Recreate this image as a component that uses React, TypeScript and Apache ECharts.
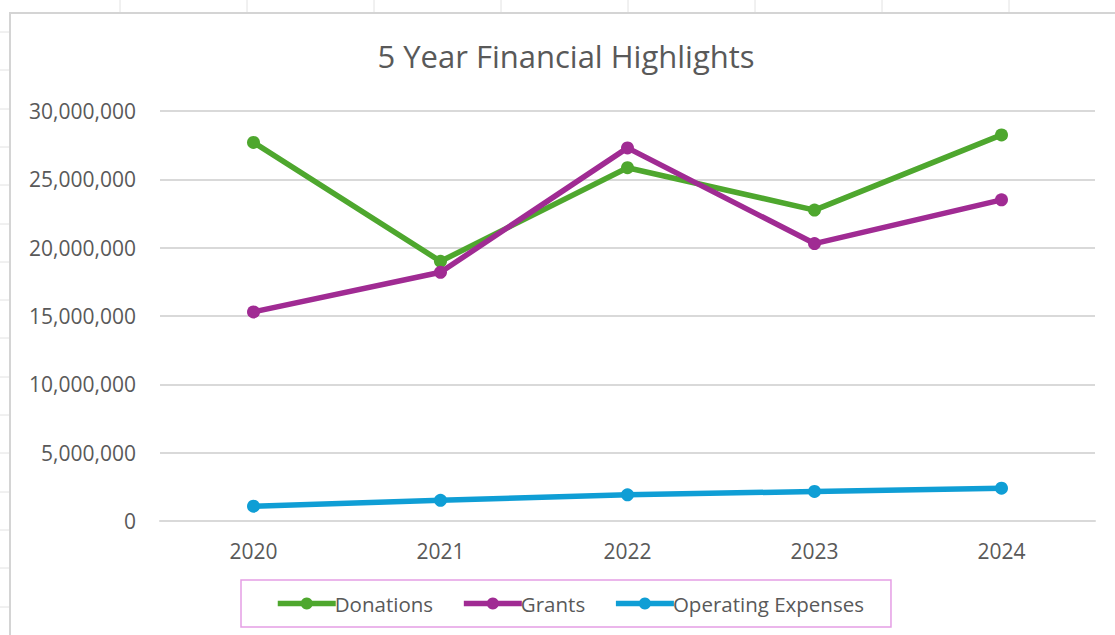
import React, { useEffect, useRef } from "react";
import * as echarts from "echarts";

const years = ["2020", "2021", "2022", "2023", "2024"];
const donations = [27700000, 19000000, 25850000, 22750000, 28250000];
const grants = [15300000, 18200000, 27300000, 20300000, 23500000];
const operatingExpenses = [1080000, 1510000, 1920000, 2160000, 2400000];
const yTicks = { min: 0, max: 30000000, interval: 5000000 };

const FONT = "'Open Sans', 'Noto Sans', sans-serif";
const TEXT = "#595959";
const GRID = "#d9d9d9";

const colX = [120, 247, 374, 501, 628, 755, 882, 1009];
const rowY = Array.from({ length: 16 }, (_, i) => Math.round(32 + i * 38.3));

export default function App() {
  const ref = useRef<HTMLDivElement>(null);
  useEffect(() => {
    if (!ref.current) return;
    const chart = echarts.init(ref.current, undefined, { renderer: "svg" });
    const fmt = (v: number) => v.toLocaleString("en-US");
    const mk = (name: string, data: number[], color: string) => ({
      name,
      type: "line",
      data,
      symbol: "circle",
      symbolSize: 13,
      lineStyle: { width: 5.5, color },
      itemStyle: { color },
      z: name === "Grants" ? 3 : 2,
    });
    const graphics: any[] = [];
    colX.forEach((x) =>
      graphics.push({ type: "line", shape: { x1: x, y1: 0, x2: x, y2: 13 }, style: { stroke: "#e2e2e2", lineWidth: 1 }, silent: true })
    );
    rowY.forEach((y) =>
      graphics.push({ type: "line", shape: { x1: 0, y1: y, x2: 10, y2: y }, style: { stroke: "#e2e2e2", lineWidth: 1 }, silent: true })
    );
    graphics.push({
      type: "polyline",
      shape: { points: [[10, 640], [10, 13], [1120, 13]] },
      style: { stroke: "#d4d4d4", lineWidth: 2, fill: "none" },
      silent: true,
    });
    chart.setOption({
      animation: false,
      backgroundColor: "#ffffff",
      textStyle: { fontFamily: FONT },
      title: {
        text: "5 Year Financial Highlights",
        left: 566,
        textAlign: "center",
        top: 40,
        padding: 0,
        textStyle: { fontFamily: FONT, fontSize: 31, fontWeight: "normal", color: TEXT },
      },
      grid: { left: 160, right: 20, top: 111, bottom: 114, containLabel: false },
      xAxis: {
        type: "category",
        data: years,
        boundaryGap: true,
        axisLine: { show: true, lineStyle: { color: GRID, width: 2 } },
        axisTick: { show: false },
        axisLabel: { color: TEXT, fontSize: 21, margin: 19, fontFamily: FONT },
      },
      yAxis: {
        type: "value",
        min: yTicks.min,
        max: yTicks.max,
        interval: yTicks.interval,
        axisLine: { show: false },
        axisTick: { show: false },
        splitLine: { lineStyle: { color: GRID, width: 2 } },
        axisLabel: { color: TEXT, fontSize: 21, margin: 24, fontFamily: FONT, formatter: fmt },
      },
      legend: {
        left: 241,
        top: 580,
        orient: "horizontal",
        itemWidth: 58,
        itemHeight: 15,
        itemGap: 28,
        padding: [13, 27, 13, 34],
        borderColor: "#e59ee5",
        borderWidth: 1.5,
        lineStyle: { width: 5.5 },
        textStyle: { color: TEXT, fontSize: 20.5, fontFamily: FONT, padding: [0, 0, 0, -6] },
        data: ["Donations", "Grants", "Operating Expenses"],
      },
      graphic: graphics,
      series: [
        mk("Donations", donations, "#4ea72e"),
        mk("Grants", grants, "#a02b93"),
        mk("Operating Expenses", operatingExpenses, "#0f9ed5"),
      ],
    });
    return () => chart.dispose();
  }, []);
  return (
    <div
      ref={ref}
      style={{ position: "fixed", left: 0, top: 0, width: 1115, height: 635, background: "#fff" }}
    />
  );
}
